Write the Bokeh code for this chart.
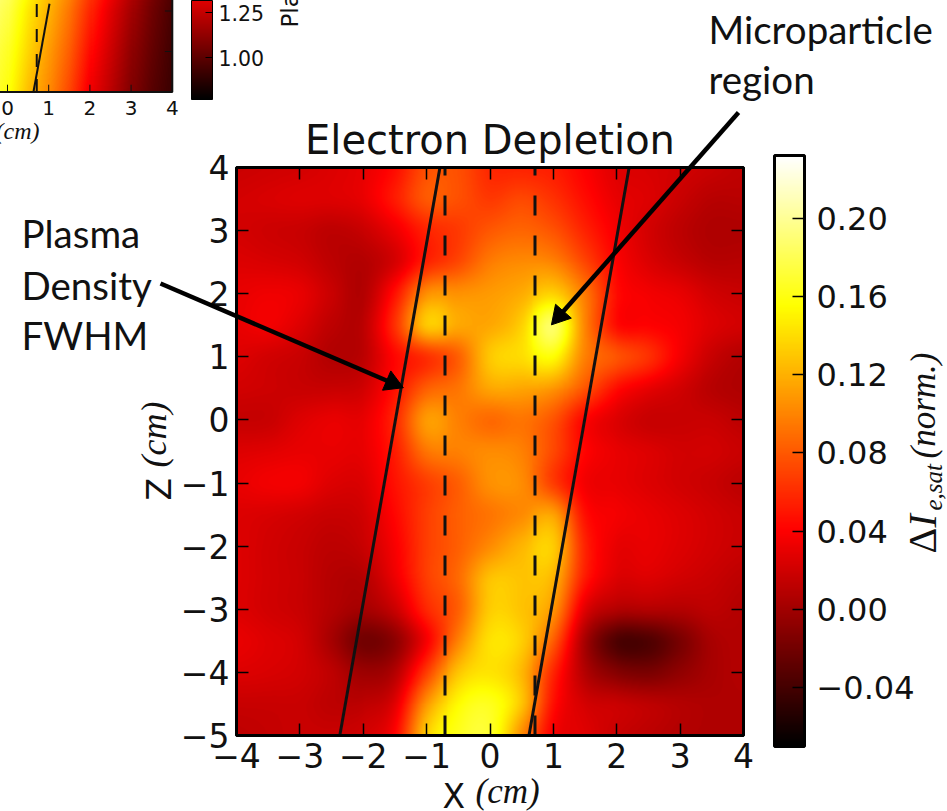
import numpy as np
from bokeh.core.properties import value
from bokeh.embed import file_html
from bokeh.models import ColorBar, FixedTicker, LinearAxis, LinearColorMapper, Range1d
from bokeh.plotting import figure
from bokeh.resources import INLINE

# ---- main panel data: delta I_e,sat at 0.5 cm spacing
x_nodes = [-4, -3.5, -3, -2.5, -2, -1.5, -1, -.5, 0, .5, 1, 1.5, 2, 2.5, 3, 3.5, 4]
z_nodes = [4, 3.5, 3, 2.5, 2, 1.5, 1, .5, 0, -.5, -1, -1.5, -2, -2.5, -3, -3.5, -4, -4.5, -5]
delta_i = [
 [.018,.020,.022,.026,.031,.046,.076,.076,.058,.056,.053,.040,.027,.024,.021,.017,.013],
 [.022,.024,.026,.026,.031,.052,.080,.076,.066,.073,.063,.046,.031,.026,.017,.010,.010],
 [.022,.019,.017,.012,.017,.033,.056,.066,.080,.086,.078,.056,.036,.022,.012,.006,.006],
 [.026,.024,.021,.012,.008,.023,.056,.073,.096,.103,.100,.072,.041,.026,.017,.010,.010],
 [.031,.034,.031,.017,.008,.048,.105,.106,.110,.118,.135,.095,.046,.036,.031,.021,.017],
 [.031,.035,.026,.012,.012,.062,.130,.116,.116,.135,.185,.100,.046,.041,.036,.026,.021],
 [.026,.021,.017,.008,.012,.043,.062,.083,.130,.140,.155,.098,.078,.062,.036,.017,.008],
 [.021,.019,.017,.017,.021,.048,.083,.093,.115,.115,.108,.078,.046,.031,.021,.010,.006],
 [.016,.017,.026,.031,.031,.058,.110,.098,.088,.093,.078,.042,.026,.017,.017,.017,.012],
 [.026,.028,.031,.031,.031,.053,.093,.098,.103,.098,.073,.042,.031,.026,.021,.021,.017],
 [.031,.035,.035,.026,.026,.048,.068,.083,.105,.103,.068,.036,.031,.026,.021,.017,.012],
 [.026,.024,.021,.017,.021,.043,.068,.083,.093,.103,.113,.047,.036,.031,.026,.021,.017],
 [.026,.021,.017,.012,.017,.038,.068,.083,.103,.122,.132,.056,.031,.031,.026,.021,.017],
 [.026,.021,.017,.009,.009,.033,.068,.088,.127,.128,.122,.052,.026,.026,.021,.017,.012],
 [.026,.021,.017,.008,.002,.018,.058,.083,.132,.128,.108,.028,.008,.008,.008,.012,.008],
 [.031,.026,.021,.002,-.020,-.008,.038,.098,.142,.133,.083,.003,-.035,-.035,-.017,.003,.008],
 [.026,.024,.021,.012,-.002,.008,.068,.128,.143,.123,.058,.008,-.012,-.017,-.007,.003,.008],
 [.017,.017,.017,.012,.012,.028,.108,.153,.163,.128,.048,.022,.017,.012,.008,.006,.006],
 [.013,.015,.017,.017,.021,.042,.133,.163,.168,.103,.038,.027,.017,.012,.008,.006,.006],
]
delta_low, delta_high = -0.07, 0.232
fwhm_left_x = [-2.37, -0.79]
fwhm_right_x = [0.615, 2.195]
fwhm_z = [-5, 4]
region_left_x = [-0.71, -0.71]
region_right_x = [0.71, 0.71]
region_z = [-5, 4]
main_x_ticks = [-4, -3, -2, -1, 0, 1, 2, 3, 4]
main_y_ticks = [-5, -4, -3, -2, -1, 0, 1, 2, 3, 4]
cbar_ticks = [-0.04, 0.00, 0.04, 0.08, 0.12, 0.16, 0.20]

# ---- inset data: plasma density, cut off by the page edge
inset_x_nodes = [-.5, 0, .5, 1, 1.5, 2, 2.5, 3, 3.5, 4]
inset_z_nodes = [-2.5, -3, -4, -5]
inset_density = [
 [2.30, 2.22, 2.05, 1.90, 1.75, 1.55, 1.38, 1.22, 1.08, .97],
 [2.28, 2.18, 2.00, 1.86, 1.70, 1.50, 1.33, 1.18, 1.05, .95],
 [2.22, 2.12, 1.95, 1.80, 1.64, 1.43, 1.28, 1.13, 1.02, .93],
 [2.18, 2.08, 1.89, 1.755, 1.58, 1.365, 1.235, 1.095, .99, .915],
]
inset_low, inset_high = 0.767, 2.5
inset_fwhm_x = [0.63, 1.02]
inset_fwhm_z = [-5, -2.82]
inset_region_x = [0.71, 0.71]
inset_region_z = [-5, -2.82]
inset_x_ticks = [0, 1, 2, 3, 4]
inset_y_ticks = [-5, -4, -3]
inset_cbar_ticks = [1.00, 1.25]
inset_cbar_top = 1.317


def hot(t):
    r = np.clip(t / 0.365, 0, 1)
    g = np.clip((t - 0.365) / 0.381, 0, 1)
    b = np.clip((t - 0.746) / 0.254, 0, 1)
    return "#%02x%02x%02x" % (int(r * 255), int(g * 255), int(b * 255))


HOT = [hot(i / 255) for i in range(256)]


def smooth_1d(a, n):
    """Catmull-Rom display smoothing along axis 0, like imshow's bicubic."""
    rows = a.shape[0]
    pos = np.linspace(0, rows - 1, (rows - 1) * n + 1)
    i = np.clip(pos.astype(int), 0, rows - 2)
    t = (pos - i)[:, None]
    p0, p1 = a[np.clip(i - 1, 0, rows - 1)], a[i]
    p2, p3 = a[i + 1], a[np.clip(i + 2, 0, rows - 1)]
    return 0.5 * (2 * p1 + (p2 - p0) * t + (2 * p0 - 5 * p1 + 4 * p2 - p3) * t ** 2
                  + (3 * p1 - p0 - 3 * p2 + p3) * t ** 3)


def smooth_2d(a, n):
    return smooth_1d(smooth_1d(a, n).T, n).T


# page pixels of the main frame
L, R, T, B = 236, 743, 167, 735
PAGE_W, PAGE_H = 947, 811
px_x = (R - L) / 8
px_z = (B - T) / 9


def X(px):
    return (px - L) / px_x - 4


def Z(py):
    return 4 - (py - T) / px_z


p = figure(width=PAGE_W, height=PAGE_H, frame_width=R - L, frame_height=B - T,
           min_border_left=L, min_border_right=PAGE_W - R, min_border_top=T,
           min_border_bottom=PAGE_H - B, x_range=Range1d(-4, 4), y_range=Range1d(-5, 4),
           output_backend="svg", toolbar_location=None,
           title="Electron Depletion")
p.background_fill_color = None
p.border_fill_color = "white"
p.outline_line_color = "black"
p.outline_line_width = 3
p.grid.visible = False
p.title.text_font = "DejaVu Sans"
p.title.text_font_size = "40px"
p.title.text_font_style = "normal"
p.title.text_color = "#111111"
p.title.align = "center"
p.title.standoff = 9

main_mapper = LinearColorMapper(palette=HOT, low=delta_low, high=delta_high)
main_img = smooth_2d(np.array(delta_i)[::-1], 32)
p.image(image=[main_img], x=-4, y=-5, dw=8, dh=9, color_mapper=main_mapper)

# mirrored axes with inward ticks
p.xaxis.ticker = FixedTicker(ticks=main_x_ticks)
p.yaxis.ticker = FixedTicker(ticks=main_y_ticks)
p.xaxis.major_label_overrides = {t: str(t).replace("-", "\u2212") for t in main_x_ticks}
p.yaxis.major_label_overrides = {t: str(t).replace("-", "\u2212") for t in main_y_ticks}
for side, ticks in (("above", main_x_ticks), ("right", main_y_ticks)):
    ax = LinearAxis(ticker=FixedTicker(ticks=ticks),
                    major_label_overrides={t: "" for t in ticks})
    p.add_layout(ax, side)
for ax in p.xaxis + p.yaxis:
    ax.axis_line_width = 3
    ax.axis_line_color = "black"
    ax.major_tick_in = 12
    ax.major_tick_out = 0
    ax.major_tick_line_width = 1.5
    ax.major_tick_line_color = "black"
    ax.minor_tick_line_color = None
    ax.major_label_text_font = "DejaVu Sans"
    ax.major_label_text_font_size = "33px"
    ax.major_label_text_color = "#111111"
    ax.major_label_standoff = 7

# FWHM lines and dashed region
p.line(fwhm_left_x, fwhm_z, line_color="#111111", line_width=3)
p.line(fwhm_right_x, fwhm_z, line_color="#111111", line_width=3)
for xs in (region_left_x, region_right_x):
    p.line(xs, region_z, line_color="#111111", line_width=3, line_dash="20 20")

# colour bar of the main panel
cb = ColorBar(color_mapper=main_mapper, ticker=FixedTicker(ticks=cbar_ticks),
              major_label_overrides={t: ("%.2f" % t).replace("-", "\u2212") for t in cbar_ticks},
              width=30, height=591, location=(774 - L, B - 746),
              bar_line_color="black", bar_line_width=3,
              major_tick_line_color="black", major_tick_line_width=1.5,
              major_tick_in=12, major_tick_out=0, minor_tick_line_color=None,
              major_label_text_font="DejaVu Sans", major_label_text_font_size="32px",
              major_label_text_color="#111111", label_standoff=12,
              background_fill_color=None, border_line_color=None, padding=0)
p.add_layout(cb)


def txt(s, px, py, font="Lato", size=38.5, style="normal", angle=0.0, color="#111111"):
    """px, py give the start of the text's baseline on the page."""
    if angle:
        px -= 0.33 * size
    else:
        py -= 0.33 * size
    p.text(x=[X(px)], y=[Z(py)], text=[s], text_font=value(font), text_font_size=f"{size}px",
           text_font_style=style, angle=angle, text_align="left",
           text_baseline="middle", text_color=color, level="annotation")


UP = np.pi / 2
# axis labels
txt("X", 442, 807, font="DejaVu Sans", size=33)
txt("(cm)", 475, 803, font="Liberation Serif", size=35, style="italic")
txt("Z", 170, 500, font="DejaVu Sans", size=33, angle=UP)
txt("(cm)", 165, 467, font="Liberation Serif", size=36, style="italic", angle=UP)

# colour bar label
txt("\u0394", 935, 553, font="Liberation Serif", size=40, angle=UP)
txt("I", 935, 527, font="Liberation Serif", size=40, style="italic", angle=UP)
txt("e,sat", 941, 510, font="Liberation Serif", size=25, style="italic", angle=UP)
txt("(norm.)", 935, 458, font="Liberation Serif", size=35, style="italic", angle=UP)

# annotation text
txt("Plasma", 21, 245)
txt("Density", 21, 297)
txt("FWHM", 21, 347)
txt("Microparticle", 708, 41)
txt("region", 708, 91)

# callout arrows
for (x0, y0, x1, y1) in ((160, 283, 400, 386), (738, 112, 553, 322)):
    ang = np.arctan2(y0 - y1, x1 - x0)     # page direction, y up
    sx, sy = x1 - 9 * np.cos(ang), y1 + 9 * np.sin(ang)
    p.line([X(x0), X(sx)], [Z(y0), Z(sy)], line_color="black", line_width=4.5, level="annotation")
    p.scatter(x=[X(sx)], y=[Z(sy)], marker="triangle", size=21, angle=ang - np.pi / 2,
              fill_color="black", line_color="black", level="annotation")

# ---- inset, sharing the page through its own ranges
IN_X0, IN_PX = 7.0, 41.2          # page x of inset x=0, pixels per cm
IN_ZB, IN_PZ = 91.5, 40.5         # page y of inset z=-5, pixels per cm
p.extra_x_ranges["inset_x"] = Range1d((L - IN_X0) / IN_PX, (R - IN_X0) / IN_PX)
p.extra_y_ranges["inset_z"] = Range1d(-5 + (IN_ZB - B) / IN_PZ, -5 + (IN_ZB - T) / IN_PZ)
kw = dict(x_range_name="inset_x", y_range_name="inset_z", level="annotation")

ix = np.array(inset_x_nodes, float)
iz = np.array(inset_z_nodes, float)
rows = np.array(inset_density)[::-1]
zs = np.linspace(-5, -2.5, 101)
xs = np.linspace(ix[0], 4, 181)
img = np.array([[np.interp(x, ix, [np.interp(z, iz[::-1], rows[:, j]) for j in range(len(ix))])
                 for x in xs] for z in zs])
inset_mapper = LinearColorMapper(palette=HOT, low=inset_low, high=inset_high)
p.image(image=[img], x=ix[0], y=-5, dw=4 - ix[0], dh=2.5, color_mapper=inset_mapper, **kw)
p.line([-0.5, 4, 4], [-5, -5, -2.5], line_color="#111111", line_width=2, **kw)
p.segment(x0=inset_x_ticks, y0=[-5] * 5, x1=inset_x_ticks, y1=[-4.82] * 5,
          line_color="#111111", line_width=1, **kw)
p.segment(x0=[4] * 3, y0=inset_y_ticks, x1=[3.82] * 3, y1=inset_y_ticks,
          line_color="#111111", line_width=1, **kw)
p.line(inset_fwhm_x, inset_fwhm_z, line_color="#111111", line_width=2, **kw)
p.line(inset_region_x, inset_region_z, line_color="#111111", line_width=2, line_dash="13 12", **kw)
p.text(x=inset_x_ticks, y=[-5] * 5, text=[str(t) for t in inset_x_ticks], y_offset=9,
       text_font=value("DejaVu Sans"), text_font_size="20px", text_color="#111111",
       text_align="center", text_baseline="top", **kw)

inset_cb = ColorBar(color_mapper=LinearColorMapper(
                        palette=[hot((inset_cbar_top - inset_low) * i / 99 / (inset_high - inset_low))
                                 for i in range(100)],
                        low=inset_low, high=inset_cbar_top),
                    ticker=FixedTicker(ticks=inset_cbar_ticks),
                    major_label_overrides={t: "%.2f" % t for t in inset_cbar_ticks},
                    width=21, height=99, location=(191 - L, B - 99),
                    bar_line_color="black", bar_line_width=1,
                    major_tick_line_color="black", major_tick_line_width=1,
                    major_tick_in=7, major_tick_out=0, minor_tick_line_color=None,
                    major_label_text_font="DejaVu Sans", major_label_text_font_size="20.5px",
                    major_label_text_color="#111111", label_standoff=6,
                    background_fill_color=None, border_line_color=None, padding=0)
p.add_layout(inset_cb)
txt("(cm)", -5, 138, font="Liberation Serif", size=24, style="italic")
txt("Pla", 297, 27, font="DejaVu Sans", size=23, angle=UP)

open("out.html", "w").write(file_html(p, INLINE))
